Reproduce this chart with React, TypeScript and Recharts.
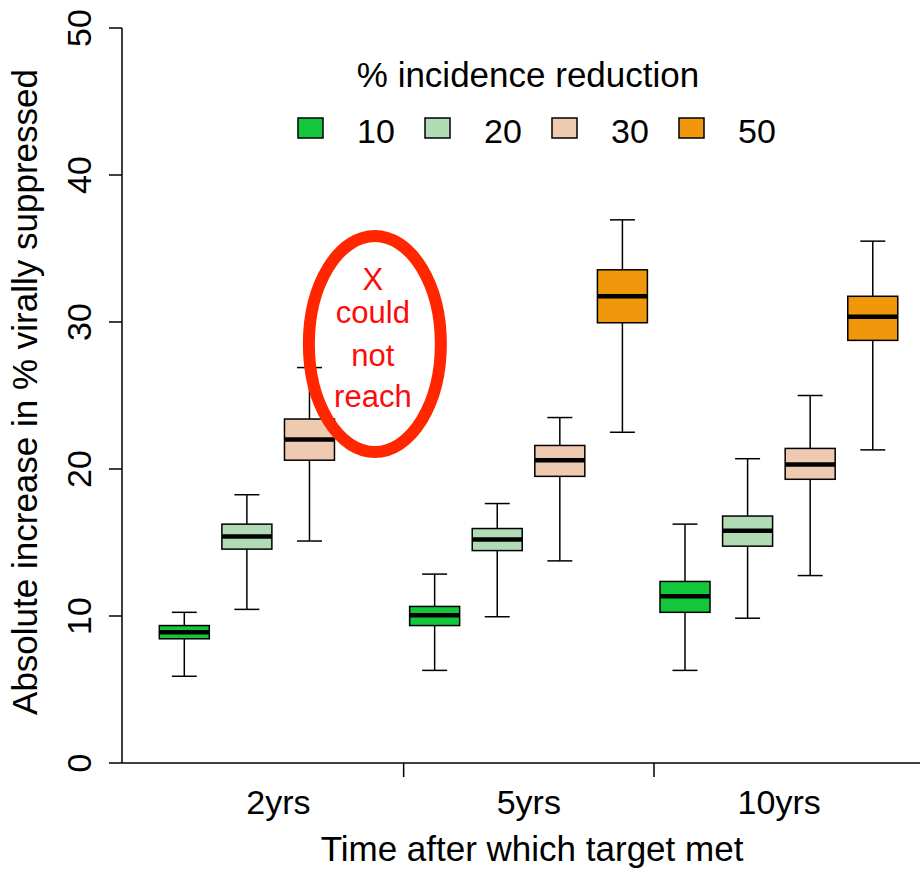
import React from 'react';
import { ComposedChart, Bar, XAxis, YAxis, Legend, ReferenceDot } from 'recharts';

const FONT = '"Liberation Sans", Arial, Helvetica, sans-serif';

const groups = ['2yrs', '5yrs', '10yrs'];
const levels = ['10', '20', '30', '50'];
const colors = ['#12c73b', '#b1dbb5', '#eecab0', '#f0970b'];

// one entry per group: [whisker low, q1, median, q3, whisker high]
const red10 = [[5.9, 8.45, 8.9, 9.35, 10.25], [6.3, 9.35, 10.05, 10.65, 12.85], [6.3, 10.25, 11.35, 12.35, 16.25]];
const red20 = [[10.45, 14.55, 15.4, 16.25, 18.25], [9.95, 14.45, 15.2, 15.95, 17.65], [9.85, 14.75, 15.8, 16.8, 20.7]];
const red30 = [[15.1, 20.6, 22.0, 23.4, 26.9], [13.75, 19.5, 20.6, 21.6, 23.5], [12.75, 19.3, 20.3, 21.4, 25.0]];
// the 50% reduction could not be reached within 2 years
const red50 = [null, [22.5, 29.95, 31.75, 33.55, 36.95], [21.3, 28.75, 30.35, 31.75, 35.5]];

const xTicks = [2.5, 4.5, 6.5, 8.5, 10.5];
const yTicks = [0, 10, 20, 30, 40, 50];

const AXIS_Y = 763;

const stats = [red10, red20, red30, red50];
const data: any[] = [];
groups.forEach((g, gi) => {
  levels.forEach((lv, li) => {
    const s = stats[li][gi];
    if (!s) return;
    data.push({
      pos: gi * 4 + li + 1,
      group: g,
      level: lv,
      color: colors[li],
      lo: s[0], q1: s[1], med: s[2], q3: s[3], hi: s[4],
      range: [s[0], s[4]],
    });
  });
});

const BoxShape = (props: any) => {
  const { x, y, width, height, payload } = props;
  const top = Math.min(y, y + height);
  const bottom = Math.max(y, y + height);
  const { lo, hi, q1, med, q3, color } = payload;
  const py = (v: number) => bottom - ((v - lo) / (hi - lo)) * (bottom - top);
  const cx = x + width / 2;
  const cap = width / 4;
  return (
    <g>
      <line x1={cx} x2={cx} y1={py(hi)} y2={py(q3)} stroke="#000" strokeWidth={1.5} />
      <line x1={cx} x2={cx} y1={py(q1)} y2={py(lo)} stroke="#000" strokeWidth={1.5} />
      <line x1={cx - cap} x2={cx + cap} y1={py(hi)} y2={py(hi)} stroke="#000" strokeWidth={1.5} />
      <line x1={cx - cap} x2={cx + cap} y1={py(lo)} y2={py(lo)} stroke="#000" strokeWidth={1.5} />
      <rect x={x} y={py(q3)} width={width} height={py(q1) - py(q3)} fill={color} stroke="#000" strokeWidth={1.5} />
      <line x1={x} x2={x + width} y1={py(med)} y2={py(med)} stroke="#000" strokeWidth={4.5} />
    </g>
  );
};

const XTick = (props: any) => {
  const { x, payload } = props;
  const gi = (payload.value - 2.5) / 4;
  if (Number.isInteger(gi)) {
    return (
      <text x={x} y={814} textAnchor="middle" fontSize={34} fontFamily={FONT} fill="#000">
        {groups[gi]}
      </text>
    );
  }
  return <line x1={x} x2={x} y1={AXIS_Y} y2={AXIS_Y + 14} stroke="#000" strokeWidth={1.5} />;
};

const YTick = (props: any) => {
  const { x, y, payload } = props;
  const tx = x - 16;
  return (
    <text x={tx} y={y} transform={`rotate(-90, ${tx}, ${y})`} textAnchor="middle" fontSize={34} fontFamily={FONT} fill="#000">
      {payload.value}
    </text>
  );
};

const XTitle = () => (
  <text x={532} y={861} textAnchor="middle" fontSize={35} fontFamily={FONT} fill="#000">
    Time after which target met
  </text>
);

const YTitle = () => (
  <text x={37} y={392} transform="rotate(-90, 37, 392)" textAnchor="middle" fontSize={35} fontFamily={FONT} fill="#000">
    Absolute increase in % virally suppressed
  </text>
);

const LegendBox = () => (
  <svg width={520} height={100} style={{ overflow: 'visible' }}>
    <text x={248} y={32} textAnchor="middle" fontSize={35} fontFamily={FONT} fill="#000">
      % incidence reduction
    </text>
    {levels.map((lv, i) => {
      const kx = 18 + i * 127;
      return (
        <g key={lv}>
          <rect x={kx} y={63} width={25} height={20} fill={colors[i]} stroke="#000" strokeWidth={1.5} />
          <text x={kx + 59} y={88} fontSize={34} fontFamily={FONT} fill="#000">
            {lv}
          </text>
        </g>
      );
    })}
  </svg>
);

const NotReached = (props: any) => {
  const { cx, cy } = props;
  return (
    <g>
      <ellipse cx={cx} cy={cy} rx={66} ry={108} fill="none" stroke="#ff2600" strokeWidth={12} />
      <g fill="#ff0a0a" fontSize={31} fontFamily={FONT} textAnchor="middle">
        <text x={cx - 2} y={cy - 54}>X</text>
        <text x={cx - 2} y={cy - 21}>could</text>
        <text x={cx - 2} y={cy + 22}>not</text>
        <text x={cx - 2} y={cy + 63}>reach</text>
      </g>
    </g>
  );
};

export default function App() {
  return (
    <div style={{ position: 'absolute', left: 0, top: 0, width: 920, height: 871, background: '#fff' }}>
      <ComposedChart width={920} height={871} data={data} margin={{ top: 28, right: 0, bottom: 0, left: 0 }}>
        <XAxis
          type="number"
          dataKey="pos"
          domain={[0, 12.75]}
          allowDataOverflow
          ticks={xTicks}
          interval={0}
          tick={<XTick />}
          tickLine={false}
          axisLine={{ stroke: '#000', strokeWidth: 1.5 }}
          height={108}
          label={{ content: XTitle }}
        />
        <YAxis
          type="number"
          domain={[0, 50]}
          allowDataOverflow
          ticks={yTicks}
          interval={0}
          width={122}
          tickSize={13}
          tickLine={{ stroke: '#000', strokeWidth: 1.5 }}
          axisLine={{ stroke: '#000', strokeWidth: 1.5 }}
          tick={<YTick />}
          label={{ content: YTitle }}
        />
        <Legend
          verticalAlign="middle"
          align="center"
          content={<LegendBox />}
          wrapperStyle={{ position: 'absolute', left: 280, top: 55, width: 520, height: 100 }}
        />
        <Bar dataKey="range" barSize={50} shape={BoxShape} isAnimationActive={false} />
        <ReferenceDot x={4.04} y={28.5} shape={NotReached} ifOverflow="visible" />
      </ComposedChart>
    </div>
  );
}
